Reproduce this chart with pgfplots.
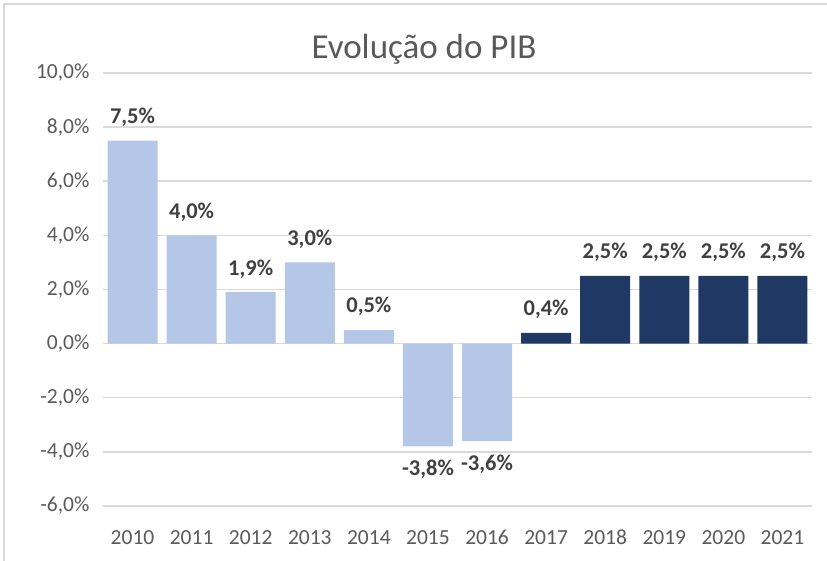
\documentclass[border=0pt]{standalone}
\usepackage{pgfplots}
\pgfplotsset{compat=1.18}
\usepackage{fontspec}
\setmainfont{Carlito}
\definecolor{lightbar}{HTML}{B4C7E7}
\definecolor{darkbar}{HTML}{203864}
\definecolor{txt}{HTML}{595959}
\definecolor{lbl}{HTML}{404040}
\definecolor{gridc}{HTML}{D9D9D9}
\begin{document}
\begin{tikzpicture}
\useasboundingbox (0bp,0bp) rectangle (827bp,561bp);
\draw[gridc, line width=1.5bp] (4bp,-5bp) -- (4bp,557bp) -- (832bp,557bp);
\node[font=\fontsize{35bp}{40bp}\selectfont, text=txt] at (424bp,512bp) {Evolução do PIB};
\begin{axis}[
  at={(103bp,55bp)}, anchor=south west, scale only axis,
  width=709bp, height=433bp,
  xmin=-0.5, xmax=11.5, ymin=-6, ymax=10,
  ybar, bar width=50bp,
  axis line style={draw=none},
  major tick length=0pt,
  xtick={0,...,11},
  xticklabels={2010,2011,2012,2013,2014,2015,2016,2017,2018,2019,2020,2021},
  ytick={-6,-4,...,10},
  yticklabel={\pgfmathprintnumber[fixed,fixed zerofill,precision=1,use comma]{\tick}\%},
  /pgf/number format/assume math mode=true,
  ticklabel style={font=\fontsize{21.5bp}{25bp}\selectfont, text=txt},
  xticklabel style={yshift=-21bp, text height=14bp, text depth=0pt},
  yticklabel style={xshift=-10bp},
  ymajorgrids, grid style={gridc, line width=1.5bp},
  nodes near coords={\pgfmathprintnumber[fixed,fixed zerofill,precision=1,use comma]{\pgfplotspointmeta}\%},
  nodes near coords align=vertical,
  every node near coord/.append style={font=\bfseries\fontsize{22.5bp}{26bp}\selectfont, text=lbl, inner sep=14bp, text height=15bp, text depth=3bp},
  clip=false,
]
\addplot[bar shift=0pt, fill=lightbar, draw=none] coordinates {(0,7.5)(1,4.0)(2,1.9)(3,3.0)(4,0.5)(5,-3.8)(6,-3.6)};
\addplot[bar shift=0pt, fill=darkbar, draw=none] coordinates {(7,0.4)(8,2.5)(9,2.5)(10,2.5)(11,2.5)};
\end{axis}
\end{tikzpicture}
\end{document}
